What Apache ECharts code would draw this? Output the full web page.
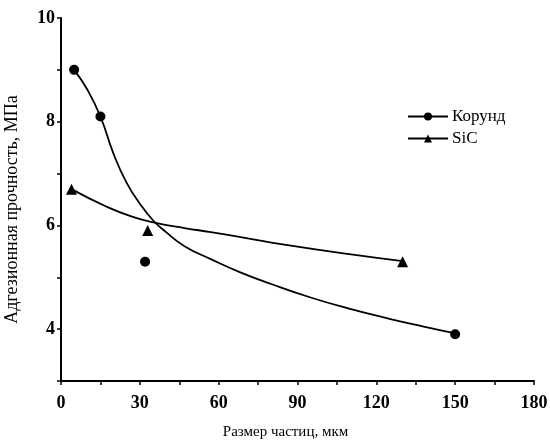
<!DOCTYPE html>
<html>
<head>
<meta charset="utf-8">
<script src="https://cdn.jsdelivr.net/npm/echarts@6/dist/echarts.min.js"></script>
<style>
  html, body { margin: 0; padding: 0; background: #fff; }
  #chart { width: 550px; height: 441px; }
</style>
</head>
<body>
<div id="chart"></div>
<script>
// measured points
const korundPoints = [[5, 9.0], [15, 8.1], [32, 5.3], [150, 3.9]];
const sicPoints = [[4, 6.7], [33, 5.9], [130, 5.3]];

// fitted curves
const korundCurve = [[5, 9.0], [10, 8.62], [15, 8.1], [20, 7.38], [25, 6.82], [30, 6.42], [35, 6.1],
  [40, 5.87], [47, 5.6], [57, 5.35], [68, 5.1], [80, 4.87], [95, 4.61], [110, 4.39], [125, 4.2],
  [138, 4.05], [150, 3.92]];
const sicCurve = [[4, 6.7], [17, 6.37], [27, 6.17], [36, 6.05], [47, 5.95], [57, 5.87],
  [70, 5.76], [85, 5.63], [109, 5.45], [130, 5.31]];

const seriesNames = ['Корунд', 'SiC'];
const xLabelStep = 30;
const yLabelStep = 2;

const font = 'Liberation Serif';
const black = '#000';

let myChart = echarts.init(document.getElementById('chart'));

let option = {
  animation: false,
  backgroundColor: '#fff',
  grid: {
    left: 61,
    right: 16,
    top: 18,
    bottom: 60,
    outerBoundsMode: 'none'
  },
  legend: {
    data: seriesNames,
    orient: 'vertical',
    left: 407,
    top: 108,
    padding: 0,
    itemWidth: 40,
    itemHeight: 10,
    itemGap: 5,
    textStyle: { fontFamily: font, fontSize: 17, color: black, padding: [0, 0, 0, -1] }
  },
  xAxis: {
    type: 'value',
    min: 0,
    max: 180,
    interval: 15,
    name: 'Размер частиц, мкм',
    nameLocation: 'middle',
    nameGap: 44,
    nameTextStyle: { fontFamily: font, fontSize: 15, color: black, padding: [0, 24, 0, 0] },
    axisLine: { lineStyle: { color: black, width: 2 } },
    axisTick: { lineStyle: { color: black, width: 1.5 }, length: 4 },
    axisLabel: {
      fontFamily: font, fontSize: 18, fontWeight: 'bold', color: black, margin: 13,
      formatter: v => (v % xLabelStep === 0 ? v : '')
    },
    splitLine: { show: false }
  },
  yAxis: {
    type: 'value',
    min: 3,
    max: 10,
    interval: 1,
    name: 'Адгезионная прочность, МПа',
    nameLocation: 'middle',
    nameGap: 40,
    nameTextStyle: { fontFamily: font, fontSize: 18, color: black, padding: [0, 20, 0, 0] },
    axisLine: { show: true, lineStyle: { color: black, width: 2 } },
    axisTick: { show: true, lineStyle: { color: black, width: 1.5 }, length: 4 },
    axisLabel: {
      fontFamily: font, fontSize: 18, fontWeight: 'bold', color: black, margin: 6,
      formatter: v => (v % yLabelStep === 0 ? v : '')
    },
    splitLine: { show: false }
  },
  series: [
    {
      name: 'Корунд',
      type: 'line',
      smooth: 0.5,
      data: korundCurve,
      symbol: 'circle',
      symbolSize: 9,
      showSymbol: false,
      lineStyle: { color: black, width: 1.8 },
      itemStyle: { color: black }
    },
    {
      name: 'SiC',
      type: 'line',
      smooth: 0.5,
      data: sicCurve,
      symbol: 'triangle',
      symbolSize: 10,
      showSymbol: false,
      lineStyle: { color: black, width: 1.8 },
      itemStyle: { color: black }
    },
    {
      name: 'Корунд точки',
      type: 'scatter',
      data: korundPoints,
      symbol: 'circle',
      symbolSize: 10,
      itemStyle: { color: black, opacity: 1 }
    },
    {
      name: 'SiC точки',
      type: 'scatter',
      data: sicPoints,
      symbol: 'triangle',
      symbolSize: 11,
      itemStyle: { color: black, opacity: 1 }
    }
  ]
};

myChart.setOption(option);
window.onresize = function () {
  myChart.resize();
};
</script>
</body>
</html>
